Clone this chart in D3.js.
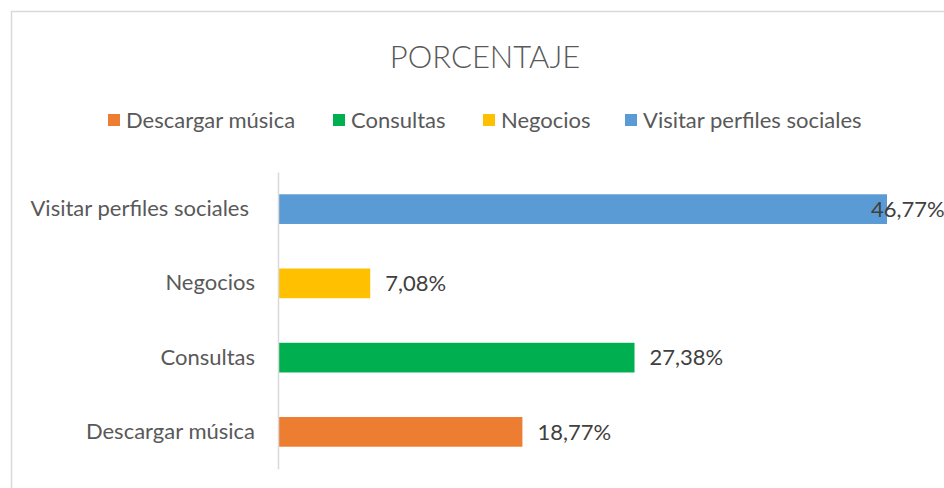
<!DOCTYPE html>
<html>
<head>
<meta charset="utf-8">
<script src="https://cdn.jsdelivr.net/npm/d3@7"></script>
<style>
  body { margin: 0; background: #fff; }
  svg { display: block; font-family: Lato, "Open Sans", sans-serif; }
</style>
</head>
<body>
<div id="chart"></div>
<script>
// data
var categories = ["Visitar perfiles sociales", "Negocios", "Consultas", "Descargar música"];
var values = [46.77, 7.08, 27.38, 18.77];
var colors = ["#5b9bd5", "#ffc000", "#00b050", "#ed7d31"];
var legendOrder = ["Descargar música", "Consultas", "Negocios", "Visitar perfiles sociales"];

var width = 944, height = 488;

var svg = d3.select("#chart").append("svg")
            .attr("width", width)
            .attr("height", height);

// chart border (only top & left visible)
svg.append("rect")
   .attr("x", 11.5).attr("y", 11.5)
   .attr("width", 1000).attr("height", 1000)
   .attr("fill", "none")
   .attr("stroke", "#d9d9d9")
   .attr("stroke-width", 1.5);

// title
svg.append("text")
   .attr("x", 485).attr("y", 68)
   .attr("text-anchor", "middle")
   .attr("fill", "#595959")
   .style("font-size", "31px")
   .style("font-weight", 300)
   .text("PORCENTAJE");

// scales
var x = d3.scaleLinear().domain([0, 46.77]).range([278, 887]);
var y = d3.scaleBand().domain(categories).range([172, 469])
          .paddingInner(0.6).paddingOuter(0.3);

var colorOf = d3.scaleOrdinal().domain(categories).range(colors);

// legend
var legendX = [108, 333, 483, 625];
var legend = svg.append("g");
legendOrder.forEach(function(c, i) {
  var g = legend.append("g").attr("transform", "translate(" + legendX[i] + ",114)");
  g.append("rect").attr("width", 12).attr("height", 12).attr("fill", colorOf(c));
  g.append("text").attr("x", 18).attr("y", 13.5)
   .attr("fill", "#595959")
   .style("font-size", "22px")
   .text(c);
});

// bars
svg.selectAll(".bar")
   .data(categories)
   .enter()
   .append("rect")
   .attr("class", "bar")
   .attr("x", x(0))
   .attr("y", function(d) { return y(d); })
   .attr("width", function(d, i) { return x(values[i]) - x(0); })
   .attr("height", y.bandwidth())
   .attr("fill", function(d) { return colorOf(d); });

// category axis
var yAxis = d3.axisLeft(y).tickSize(0).tickPadding(23);
var ax = svg.append("g")
            .attr("transform", "translate(" + x(0) + ",0)")
            .call(yAxis);
ax.select(".domain").attr("stroke", "#d9d9d9").attr("stroke-width", 1.5);
ax.selectAll("text")
  .attr("fill", "#595959")
  .style("font-family", "Lato, 'Open Sans', sans-serif")
  .style("font-size", "22px");
// first label sits a little further left in the reference
ax.selectAll(".tick text").filter(function(d) { return d == categories[0]; }).attr("dx", -6);

// value labels
svg.selectAll(".lbl")
   .data(categories)
   .enter()
   .append("text")
   .attr("class", "lbl")
   .attr("x", function(d, i) { return Math.min(x(values[i]) + 15, 871); })
   .attr("y", function(d) { return y(d) + y.bandwidth() / 2; })
   .attr("dy", "0.35em")
   .attr("fill", "#404040")
   .style("font-size", "22px")
   .text(function(d, i) { return d3.format(".2f")(values[i]).replace(".", ",") + "%"; });
</script>
</body>
</html>
